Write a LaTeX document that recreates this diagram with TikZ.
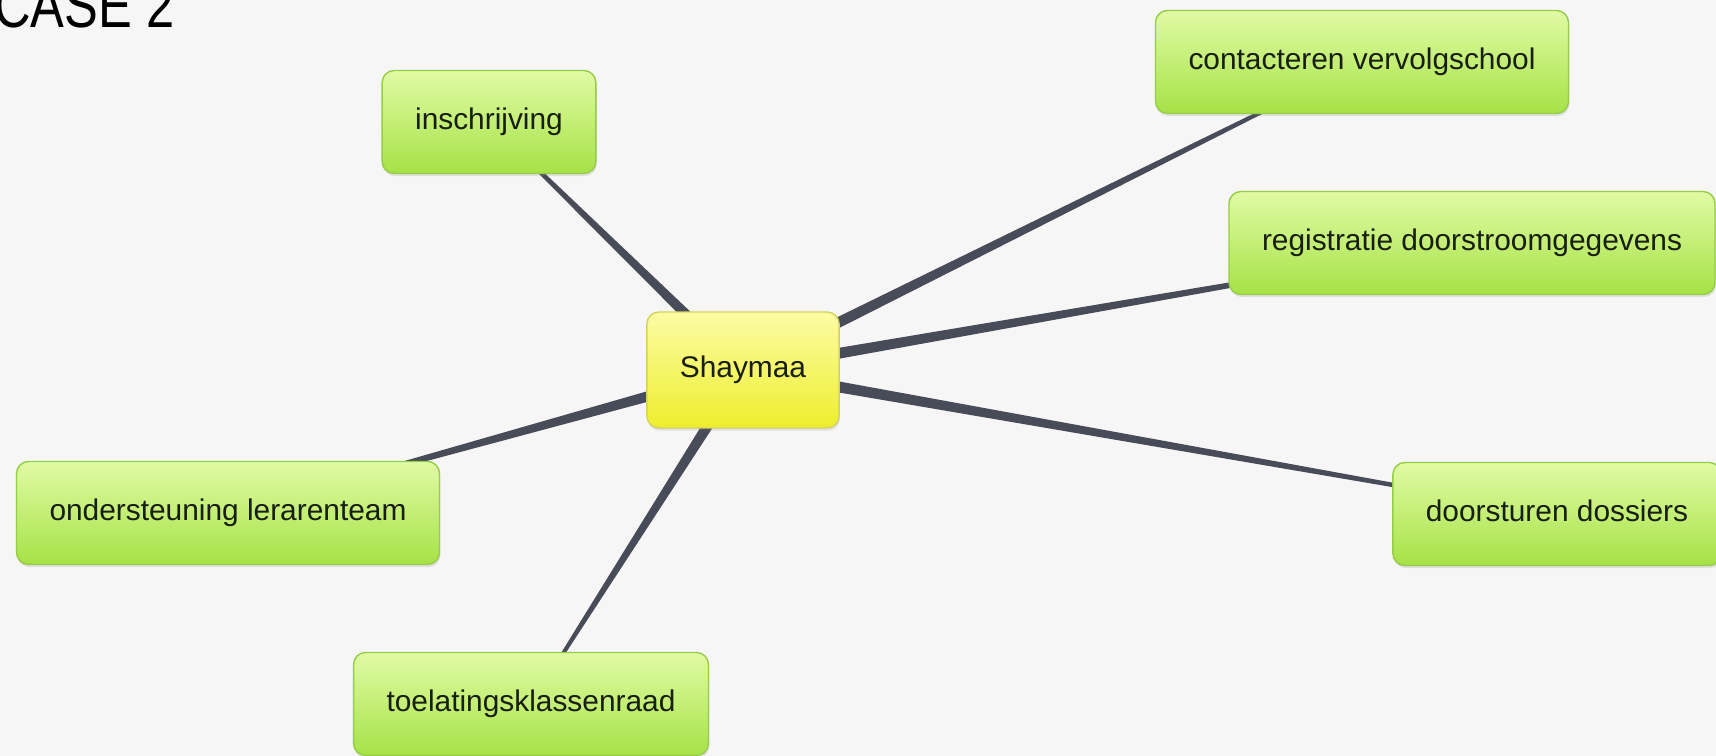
\documentclass[tikz,border=0pt]{standalone}
\usepackage{fontspec}
\setmainfont{Liberation Sans}
\newfontfamily\casefont[FakeStretch=0.8]{Liberation Sans}
\usetikzlibrary{calc,shadows,backgrounds}

\definecolor{paper}{RGB}{246,246,246}
\definecolor{linkgray}{RGB}{72,75,88}
\definecolor{leaftop}{RGB}{224,251,165}
\definecolor{leafbot}{RGB}{166,226,70}
\definecolor{leafedge}{RGB}{150,205,70}
\definecolor{hubtop}{RGB}{252,252,165}
\definecolor{hubbot}{RGB}{238,238,45}
\definecolor{hubedge}{RGB}{212,210,95}
\definecolor{ink}{RGB}{24,30,16}

\begin{document}
\begin{tikzpicture}[x=0.02cm,y=-0.02cm,
    box/.style={rounded corners=0.24cm, inner xsep=0.66cm, text height=12pt, text depth=3.5pt,
      text=ink, font=\fontsize{17}{20}\selectfont, line width=0.8pt,
      drop shadow={opacity=0.18,shadow xshift=0.5pt,shadow yshift=-1.5pt}},
    subtopic/.style={box, draw=leafedge, top color=leaftop, bottom color=leafbot, minimum height=2.06cm},
    topic/.style={box, draw=hubedge, top color=hubtop, bottom color=hubbot, minimum height=2.32cm},
    link/.style={fill=linkgray}]
  \useasboundingbox (0,0) rectangle (1716,756);

  % title, cut off at the top as in the slide
  \node[anchor=base west, inner sep=0pt, font=\casefont\fontsize{36}{40}\selectfont] (title) at (-6,28) {CASE 2};

  % mind map
  \node[topic] (shaymaa) at (743,370) {Shaymaa};
  \node[subtopic] (inschrijving) at (489,122) {inschrijving};
  \node[subtopic] (vervolgschool) at (1362,62) {contacteren vervolgschool};
  \node[subtopic] (doorstroom) at (1472,243) {registratie doorstroomgegevens};
  \node[subtopic] (dossiers) at (1557,514) {doorsturen dossiers};
  \node[subtopic] (lerarenteam) at (228,513) {ondersteuning lerarenteam};
  \node[subtopic] (klassenraad) at (531,704) {toelatingsklassenraad};

  \begin{scope}[on background layer]
    \fill[paper] (0,0) rectangle (1716,756);
    % tapered links from the centre
    \foreach \n in {inschrijving,vervolgschool,doorstroom,dossiers,lerarenteam,klassenraad} {
        \fill[link] ($(shaymaa)!0.12cm!90:(\n)$) -- ($(\n)!0.025cm!-90:(shaymaa)$)
          -- ($(\n)!0.025cm!90:(shaymaa)$) -- ($(shaymaa)!0.12cm!-90:(\n)$) -- cycle;
    }
  \end{scope}
\end{tikzpicture}
\end{document}
